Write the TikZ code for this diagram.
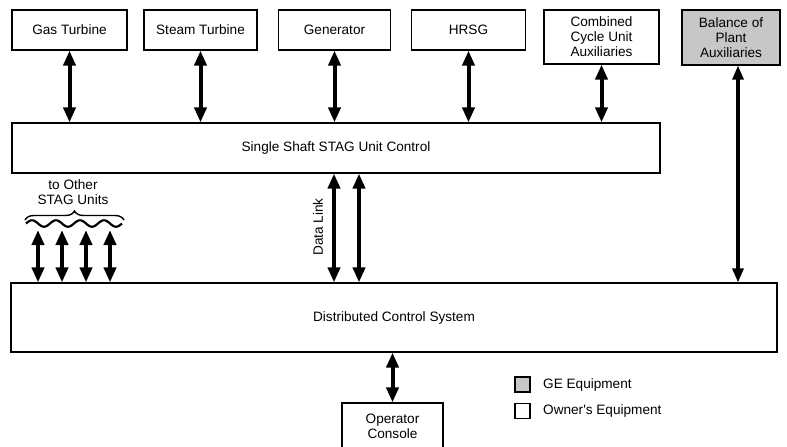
\documentclass[tikz,border=0pt]{standalone}
\usepackage{fontspec}
\setmainfont{Liberation Sans}
\usetikzlibrary{arrows.meta,decorations.pathreplacing}
\begin{document}
\begin{tikzpicture}[x=1pt,y=1pt,
  box/.style={draw, line width=1.2pt, inner sep=0pt, align=center, font=\fontsize{13.6}{15}\selectfont},
  dbl/.style={line width=4pt, {Triangle[width=12pt,length=15pt]}-{Triangle[width=12pt,length=15pt]}},
  thin dbl/.style={line width=3.2pt, {Triangle[width=11pt,length=14pt]}-{Triangle[width=11pt,length=14pt]}},
  lbl/.style={font=\fontsize{13.6}{15}\selectfont, inner sep=0pt, align=center},
  geq/.style={fill=black!22}
]
\useasboundingbox (0,0) rectangle (787,-447);
% top boxes
\node[box, minimum width=115pt, minimum height=40pt] (gas) at (69.5,-30) {Gas Turbine};
\node[box, minimum width=113pt, minimum height=40pt] (steam) at (200.5,-30) {Steam Turbine};
\node[box, minimum width=112pt, minimum height=40pt] (gen) at (334.5,-30) {Generator};
\node[box, minimum width=114pt, minimum height=40pt] (hrsg) at (468.5,-30) {HRSG};
\node[box, minimum width=115pt, minimum height=54pt] (ccua) at (601.5,-37) {Combined\\Cycle Unit\\Auxiliaries};
\node[box, geq, minimum width=98pt, minimum height=55pt] (bop) at (731,-37.5) {Balance of\\Plant\\Auxiliaries};
% main boxes
\node[box, minimum width=648pt, minimum height=50pt] (ssu) at (336,-148) {Single Shaft STAG Unit Control};
\node[box, minimum width=766pt, minimum height=69pt] (dcs) at (394,-317.5) {Distributed Control System};
\node[box, minimum width=101pt, minimum height=46pt] (op) at (392.5,-426) {Operator\\Console};
% arrows top
\foreach \n in {gas,steam,gen,hrsg,ccua}
  \draw[dbl] (\n.south) -- (\n.south |- ssu.north);
\coordinate (bx) at (738,0);
\draw[thin dbl] (bop.south -| bx) -- (dcs.north -| bx);
% data link
\coordinate (d1) at (334,0);
\coordinate (d2) at (359,0);
\draw[dbl] (ssu.south -| d1) -- (dcs.north -| d1);
\draw[dbl] (ssu.south -| d2) -- (dcs.north -| d2);
\node[lbl, rotate=90] (dl) at (318,-227) {Data Link};
% other STAG units
\foreach \i/\xc in {1/38,2/62,3/86,4/110} {
  \coordinate (s\i) at (\xc,-230);
  \draw[dbl] (s\i) -- (s\i |- dcs.north);
  \draw[line width=2.2pt] plot[domain=-12:12, smooth, samples=25] ({\xc+\x}, {-223.5-3.2*sin(\x*15)});
}
\coordinate (bl) at (25,-220);
\coordinate (br) at (124,-220);
\draw[line width=1.4pt, decorate, decoration={brace, amplitude=9pt}] (bl) -- (br);
\node[lbl] (oth) at (73,-192) {to Other\\STAG Units};
% operator arrow
\draw[dbl] (dcs.south -| op.north) -- (op.north);
% legend
\node[draw, geq, line width=1.2pt, minimum size=15pt, inner sep=0pt] (lg1) at (522.5,-384.5) {};
\node[draw, line width=1.2pt, minimum size=15pt, inner sep=0pt] (lg2) at (522.5,-411) {};
\node[lbl, anchor=west] (lt1) at (543,-384.5) {GE Equipment};
\node[lbl, anchor=west] (lt2) at (543,-411) {Owner\textquotesingle s Equipment};
\end{tikzpicture}
\end{document}
